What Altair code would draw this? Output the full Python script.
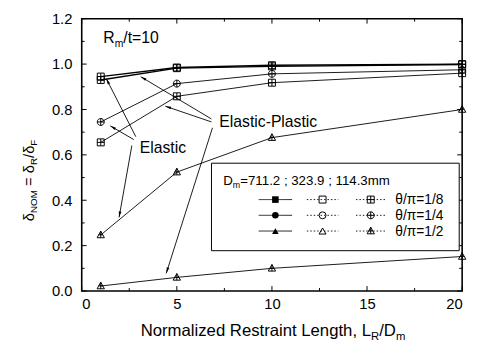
import math
import altair as alt
import pandas as pd

# ---------------- data ----------------
x_vals = [1, 5, 10, 20]
el_18 = [0.945, 0.985, 0.995, 1.000]
ep_18 = [0.930, 0.982, 0.990, 0.998]
el_14 = [0.745, 0.914, 0.957, 0.975]
ep_14 = [0.655, 0.858, 0.918, 0.960]
el_12 = [0.247, 0.524, 0.676, 0.800]
ep_12 = [0.022, 0.060, 0.100, 0.152]

x_major = [0, 5, 10, 15, 20]
x_minor = [2.5, 7.5, 12.5, 17.5]
y_major = [0.0, 0.2, 0.4, 0.6, 0.8, 1.0, 1.2]
y_minor = [0.1, 0.3, 0.5, 0.7, 0.9, 1.1]

legend_rows = ["θ/π=1/8", "θ/π=1/4", "θ/π=1/2"]
legend_title = "=711.2 ; 323.9 ; 114.3mm"

# ---------------- layout ----------------
W, H = 387, 277
XMAX, YMAX = 20.0, 1.2
OX, OY = 83, 16  # page position of plot origin

SQ_PLUS = "M-1,-1H1V1H-1Z M-1,0H1 M0,-1V1"
CI_PLUS = "M-1,0A1,1,0,1,1,1,0A1,1,0,1,1,-1,0Z M-1,0H1 M0,-1V1"
TR_PLUS = "M0,-1.1L1.05,0.8H-1.05Z M-0.6,-0.05H0.6 M0,-1.1V0.8"
ARROW = "M0,0L-0.45,2L0.45,2Z"


def pg(px, py):
    """page pixel -> data coordinates"""
    return (px - OX) / W * XMAX, (H - (py - OY)) / H * YMAX


series = [
    ("el18", el_18, SQ_PLUS, 1.4),
    ("ep18", ep_18, SQ_PLUS, 1.4),
    ("el14", el_14, CI_PLUS, 0.9),
    ("ep14", ep_14, SQ_PLUS, 0.9),
    ("el12", el_12, TR_PLUS, 0.9),
    ("ep12", ep_12, TR_PLUS, 0.9),
]
rows = []
for name, ys, shp, sw in series:
    for xv, yv in zip(x_vals, ys):
        rows.append(dict(s=name, x=xv, y=yv, shape=shp, sw=sw))
df = pd.DataFrame(rows)

xs = alt.Scale(domain=[0, XMAX], nice=False, zero=False)
ys_ = alt.Scale(domain=[0, YMAX], nice=False, zero=False)
FONT = "Liberation Sans"
xaxis = alt.Axis(values=x_major, format="d", ticks=False, domain=False, grid=False,
                 labelFontSize=15, labelFont=FONT, labelColor="black", labelPadding=6,
                 title=None, labelOverlap=False)
yaxis = alt.Axis(values=y_major, format=".1f", ticks=False, domain=False, grid=False,
                 labelFontSize=15, labelFont=FONT, labelColor="black", labelPadding=10,
                 title=None, labelOverlap=False)


def X(f):
    return alt.X(f, type="quantitative", scale=xs, axis=xaxis)


def Y(f):
    return alt.Y(f, type="quantitative", scale=ys_, axis=yaxis)


lines = alt.Chart(df).mark_line(color="black").encode(
    x=X("x"), y=Y("y"), detail="s:N",
    strokeWidth=alt.StrokeWidth("sw:Q", scale=None, legend=None))
points = alt.Chart(df).mark_point(filled=False, color="black", strokeWidth=1, size=50,
                                  opacity=1).encode(
    x=X("x"), y=Y("y"), shape=alt.Shape("shape:N", scale=None, legend=None))

# ---------------- ticks (inward, all four sides) ----------------
tick_layers = []
for vals, ln in ((x_major, 5), (x_minor, 3)):
    tdf = pd.DataFrame({"v": vals})
    tick_layers.append(alt.Chart(tdf).mark_rule(color="black", strokeWidth=1).encode(
        x=X("v"), y=alt.value(H), y2=alt.value(H - ln)))
    tick_layers.append(alt.Chart(tdf).mark_rule(color="black", strokeWidth=1).encode(
        x=X("v"), y=alt.value(0), y2=alt.value(ln)))
for vals, ln in ((y_major, 5), (y_minor, 3)):
    tdf = pd.DataFrame({"v": vals})
    tick_layers.append(alt.Chart(tdf).mark_rule(color="black", strokeWidth=1).encode(
        y=Y("v"), x=alt.value(0), x2=alt.value(ln)))
    tick_layers.append(alt.Chart(tdf).mark_rule(color="black", strokeWidth=1).encode(
        y=Y("v"), x=alt.value(W), x2=alt.value(W - ln)))

# ---------------- arrows ----------------
arrows_pg = [
    ((138, 136), (108, 77)),
    ((136, 139), (112, 125)),
    ((134, 145), (121, 218)),
    ((215, 118), (143, 75)),
    ((215, 121), (168, 105)),
    ((216, 127), (169, 275)),
]
arows = []
for (a, b) in arrows_pg:
    x1, y1 = pg(*a)
    x2, y2 = pg(*b)
    dxp, dyp = b[0] - a[0], b[1] - a[1]
    ang = math.degrees(math.atan2(dxp, -dyp)) % 360
    arows.append(dict(x1=x1, y1=y1, x2=x2, y2=y2, ang=ang))
adf = pd.DataFrame(arows)
arrow_lines = alt.Chart(adf).mark_rule(color="black", strokeWidth=0.9).encode(
    x=X("x1"), y=Y("y1"), x2="x2", y2="y2")
arrow_heads = alt.Chart(adf).mark_point(filled=True, color="black", size=36, opacity=1,
                                        shape=ARROW).encode(
    x=X("x2"), y=Y("y2"), angle=alt.Angle("ang:Q", scale=None))

# ---------------- legend ----------------
bx1, by1 = pg(215, 163)
bx2, by2 = pg(467, 252)
box = alt.Chart(pd.DataFrame([dict(x1=bx1, y1=by1, x2=bx2, y2=by2)])).mark_rect(
    fill="white", stroke="black", strokeWidth=1).encode(
    x=X("x1"), y=Y("y1"), x2="x2", y2="y2")

row_py = [200, 216, 232]
col_px = [280, 328, 377]
filled_shapes = ["square", "circle", "triangle-up"]
plus_shapes = [SQ_PLUS, CI_PLUS, TR_PLUS]
seg_half = [17, 16, 15]
seg_dash = [[1, 0], [1.5, 2], [1.5, 2]]
leg_segs = []
leg_pts_f = []
leg_pts_o = []
leg_pts_p = []
for r, py in enumerate(row_py):
    for c, px in enumerate(col_px):
        xa, ya = pg(px - seg_half[c], py)
        xb, _ = pg(px + seg_half[c], py)
        leg_segs.append(dict(x1=xa, x2=xb, y=ya, c=c))
        xm, ym = pg(px, py)
        if c == 0:
            leg_pts_f.append(dict(x=xm, y=ym, shape=filled_shapes[r]))
        elif c == 1:
            leg_pts_o.append(dict(x=xm, y=ym, shape=filled_shapes[r]))
        else:
            leg_pts_p.append(dict(x=xm, y=ym, shape=plus_shapes[r]))
segdf = pd.DataFrame(leg_segs)
seg_layers = []
for c in range(3):
    seg_layers.append(alt.Chart(segdf[segdf.c == c]).mark_rule(
        color="black", strokeWidth=0.9, strokeDash=seg_dash[c]).encode(
        x=X("x1"), x2="x2", y=Y("y")))
lp_f = alt.Chart(pd.DataFrame(leg_pts_f)).mark_point(filled=True, color="black", size=45,
                                                     opacity=1).encode(
    x=X("x"), y=Y("y"), shape=alt.Shape("shape:N", scale=None, legend=None))
lp_o = alt.Chart(pd.DataFrame(leg_pts_o)).mark_point(filled=False, color="black", size=50,
                                                     strokeWidth=1, opacity=1).encode(
    x=X("x"), y=Y("y"), shape=alt.Shape("shape:N", scale=None, legend=None))
lp_p = alt.Chart(pd.DataFrame(leg_pts_p)).mark_point(filled=False, color="black", size=50,
                                                     strokeWidth=1, opacity=1).encode(
    x=X("x"), y=Y("y"), shape=alt.Shape("shape:N", scale=None, legend=None))

# ---------------- texts (with subscripts) ----------------
CW = {' ': 278, ',': 278, '.': 278, '/': 278, ';': 278, '=': 584, '-': 333,
      'D': 722, 'E': 667, 'F': 611, 'L': 556, 'M': 833, 'N': 722, 'O': 778, 'P': 667,
      'R': 722, 'a': 556, 'c': 500, 'd': 556, 'e': 556, 'g': 556, 'h': 556, 'i': 222,
      'l': 222, 'm': 833, 'n': 556, 'o': 556, 'r': 333, 's': 500, 't': 278, 'z': 500,
      'δ': 556, 'θ': 556, 'π': 556}


def tw(s, fs):
    return sum(CW.get(ch, 556) for ch in s) * fs / 1000.0


texts = []


def rich(pieces, px0, py0, fs, sfs=None, drop=0, vertical=False):
    pos = 0.0
    for txt, sub in pieces:
        size = sfs if sub else fs
        lead = len(txt) - len(txt.lstrip(" "))
        trail = len(txt) - len(txt.rstrip(" "))
        core = txt.strip(" ")
        pos += tw(" " * lead, size)
        if vertical:
            px, py = px0 + (drop if sub else 0), py0 - pos
        else:
            px, py = px0 + pos, py0 + (drop if sub else 0)
        x, y = pg(px, py)
        texts.append(dict(x=x, y=y, t=core, fs=size, ang=270 if vertical else 0))
        pos += tw(core, size) + tw(" " * trail, size)


rich([("Normalized Restraint Length, L", False), ("R", True), ("/D", False), ("m", True)],
     143, 339, 17, 11.5, 4)
rich([("δ", False), ("NOM", True), (" = ", False), ("δ", False), ("R", True),
      ("/", False), ("δ", False), ("F", True)], 34, 222, 15, 10, 4, vertical=True)
rich([("R", False), ("m", True), ("/t=10", False)], 105, 41, 16, 10.5, 4)
rich([("D", False), ("m", True), (legend_title, False)], 227, 185, 13.5, 9, 3.5)
rich([("Elastic-Plastic", False)], 223, 126, 16)
rich([("Elastic", False)], 142, 153, 16)
for lab, py in zip(legend_rows, row_py):
    rich([(lab, False)], 402, py + 5, 14)

tdf = pd.DataFrame(texts)
text_layer = alt.Chart(tdf).mark_text(align="left", baseline="alphabetic", font=FONT,
                                      color="black").encode(
    x=X("x"), y=Y("y"), text="t:N",
    size=alt.Size("fs:Q", scale=None, legend=None),
    angle=alt.Angle("ang:Q", scale=None))

chart = alt.layer(
    lines, points, *tick_layers, arrow_lines, arrow_heads,
    box, *seg_layers, lp_f, lp_o, lp_p, text_layer
).properties(
    width=W, height=H,
    autosize=alt.AutoSizeParams(type="none"),
    padding={"left": OX - 8, "top": OY - 8, "right": 9, "bottom": 50},
    background="white",
).configure_view(stroke="black", strokeWidth=1.6)

chart.save("out.html", embed_options={"renderer": "svg", "actions": False})
